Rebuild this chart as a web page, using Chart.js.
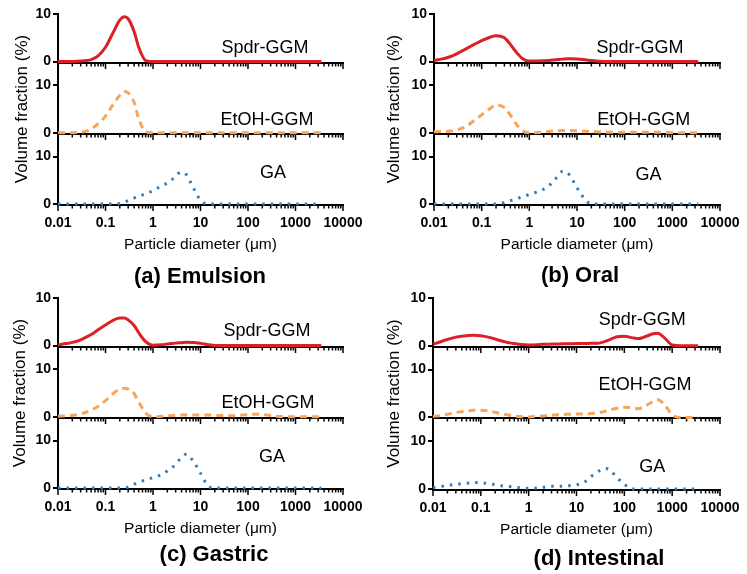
<!DOCTYPE html>
<html>
<head>
<meta charset="utf-8">
<script src="https://cdn.jsdelivr.net/npm/chart.js@4"></script>
<style>
  body { margin: 0; background: #fff; width: 747px; height: 574px; position: relative; overflow: hidden; font-family: 'Liberation Sans', Arial, sans-serif; }
  canvas { position: absolute; }
  .ptitle { position: absolute; font-weight: bold; font-size: 22px; transform: translate(-50%, -50%); white-space: nowrap; color: #000; }
</style>
</head>
<body>
<script>
// particle diameter grid (um), shared by every curve
const sizes = [0.01, 0.015, 0.02, 0.025, 0.03, 0.04, 0.05, 0.07,
  0.1, 0.15, 0.2, 0.25, 0.3, 0.4, 0.5, 0.7,
  1, 1.5, 2, 2.5, 3, 4, 5, 7,
  10, 15, 20, 25, 30, 40, 50, 70,
  100, 150, 200, 250, 300, 400, 500, 700,
  1000, 1500, 2000, 2500, 3000, 3500];
const xTickLabels = [0.01, 0.1, 1, 10, 100, 1000, 10000];
const seriesNames = ['Spdr-GGM', 'EtOH-GGM', 'GA'];

// (a) Emulsion
const emulsionSpdr = [0, 0, 0.02, 0.04, 0.08, 0.2, 0.4, 1.2,
  3.0, 6.4, 8.7, 9.4, 9.0, 6.3, 3.0, 0.2,
  0, 0, 0, 0, 0, 0, 0, 0,
  0, 0, 0, 0, 0, 0, 0, 0,
  0, 0, 0, 0, 0, 0, 0, 0,
  0, 0, 0, 0, 0, 0];
const emulsionEtoh = [0, 0, 0.02, 0.05, 0.12, 0.35, 0.8, 1.9,
  3.5, 6.2, 7.9, 8.7, 8.4, 6.4, 3.0, 0.2,
  0, 0, 0, 0, 0, 0, 0, 0,
  0, 0, 0, 0, 0, 0, 0, 0,
  0, 0, 0, 0, 0, 0, 0, 0,
  0, 0, 0, 0, 0, 0];
const emulsionGa = [0, 0, 0, 0, 0, 0, 0, 0,
  0, 0, 0.1, 0.4, 0.7, 1.25, 1.6, 2.2,
  2.8, 3.8, 4.4, 5.1, 6.0, 6.7, 6.2, 3.5,
  0.8, 0, 0, 0, 0, 0, 0, 0,
  0, 0, 0, 0, 0, 0, 0, 0,
  0, 0, 0, 0, 0, 0];

// (b) Oral
const oralSpdr = [0.2, 0.55, 0.9, 1.25, 1.6, 2.3, 2.8, 3.6,
  4.4, 5.1, 5.4, 5.3, 5.0, 3.6, 2.3, 0.7,
  0.1, 0.1, 0.15, 0.2, 0.3, 0.4, 0.5, 0.6,
  0.55, 0.35, 0.2, 0.1, 0.05, 0, 0, 0,
  0, 0, 0, 0, 0, 0, 0, 0,
  0, 0, 0, 0, 0, 0];
const oralEtoh = [0.2, 0.25, 0.3, 0.4, 0.6, 1.0, 1.5, 2.6,
  3.8, 5.1, 5.8, 5.7, 5.3, 3.7, 2.2, 0.5,
  0, 0.05, 0.15, 0.25, 0.35, 0.4, 0.45, 0.45,
  0.4, 0.3, 0.25, 0.2, 0.15, 0.1, 0.1, 0.1,
  0.1, 0.1, 0.1, 0.1, 0.1, 0.1, 0.1, 0.05,
  0, 0, 0, 0, 0, 0];
const oralGa = [0, 0, 0, 0, 0, 0, 0, 0,
  0, 0, 0, 0.1, 0.3, 0.7, 1.0, 1.5,
  2.0, 2.6, 3.1, 3.7, 4.5, 5.9, 6.9, 6.1,
  3.4, 0.9, 0, 0, 0, 0, 0, 0,
  0, 0, 0, 0, 0, 0, 0, 0,
  0, 0, 0, 0, 0, 0];

// (c) Gastric
const gastricSpdr = [0.15, 0.4, 0.65, 0.9, 1.2, 1.8, 2.3, 3.3,
  4.3, 5.4, 5.8, 5.8, 5.4, 4.2, 2.7, 0.8,
  0.05, 0.15, 0.3, 0.4, 0.5, 0.6, 0.7, 0.65,
  0.45, 0.15, 0, 0, 0, 0, 0, 0,
  0, 0, 0, 0, 0, 0, 0, 0,
  0, 0, 0, 0, 0, 0];
const gastricEtoh = [0.1, 0.2, 0.3, 0.45, 0.6, 1.0, 1.4, 2.2,
  3.4, 5.0, 5.8, 6.0, 5.8, 4.9, 3.1, 0.8,
  0, 0.1, 0.2, 0.25, 0.3, 0.35, 0.35, 0.35,
  0.35, 0.35, 0.3, 0.25, 0.25, 0.2, 0.2, 0.3,
  0.5, 0.55, 0.45, 0.35, 0.25, 0.1, 0.05, 0,
  0, 0, 0, 0, 0, 0];
const gastricGa = [0, 0, 0, 0, 0, 0, 0, 0,
  0, 0, 0, 0.05, 0.2, 0.8, 1.2, 1.7,
  2.2, 2.8, 3.6, 4.2, 5.1, 6.4, 7.1, 5.7,
  3.1, 0.3, 0, 0, 0, 0, 0, 0,
  0, 0, 0, 0, 0, 0, 0, 0,
  0, 0, 0, 0, 0, 0];

// (d) Intestinal
const intestinalSpdr = [0.3, 0.9, 1.3, 1.6, 1.8, 2.0, 2.1, 2.2,
  2.1, 1.75, 1.4, 1.1, 0.9, 0.6, 0.45, 0.25,
  0.15, 0.2, 0.3, 0.3, 0.35, 0.35, 0.4, 0.4,
  0.45, 0.45, 0.5, 0.5, 0.55, 0.9, 1.3, 1.9,
  2.0, 1.65, 1.5, 1.75, 2.05, 2.5, 2.6, 1.6,
  0.15, 0, 0, 0, 0, 0];
const intestinalEtoh = [0.2, 0.4, 0.65, 0.85, 1.0, 1.2, 1.35, 1.5,
  1.5, 1.3, 1.05, 0.85, 0.7, 0.45, 0.3, 0.15,
  0.1, 0.2, 0.3, 0.4, 0.45, 0.55, 0.6, 0.65,
  0.7, 0.7, 0.8, 0.95, 1.05, 1.3, 1.55, 1.9,
  2.1, 2.0, 1.8, 2.2, 2.6, 3.3, 3.7, 2.6,
  0.55, 0, 0, 0, 0, 0];
const intestinalGa = [0.3, 0.55, 0.75, 0.9, 1.0, 1.1, 1.2, 1.35,
  1.3, 1.1, 0.9, 0.75, 0.6, 0.5, 0.4, 0.25,
  0.15, 0.2, 0.35, 0.5, 0.6, 0.6, 0.6, 0.7,
  0.85, 1.5, 2.6, 3.3, 3.8, 4.3, 4.0, 2.4,
  1.0, 0, 0, 0, 0, 0, 0, 0,
  0, 0, 0, 0, 0, 0];

const FONT = "'Liberation Sans', Arial, sans-serif";
Chart.defaults.font.family = FONT;
Chart.defaults.color = '#000';

const YW = 30;   // width of the y tick column
const XH = 30;   // height of the x tick label row
const axisIds = ['yTop', 'yMid', 'yBot'];
const colors = ['#dd1f26', '#f6a55a', '#2f7ebf'];
const widths = [3, 3, 3];
const dashes = [[], [7, 5], [2.5, 6]];

// box = canvas rect on the page, plot = wanted chart area (left, top, right, bottom)
const panels = [
  { title: '(a) Emulsion', box: [0, 0, 373, 287], plot: [58, 14, 343, 204], titleAt: [200, 276],
    series: [emulsionSpdr, emulsionEtoh, emulsionGa], labels: [[228, 2.8], [251, 2.7], [336, 6.6]], yTitleDx: -36 },
  { title: '(b) Oral', box: [373, 0, 374, 287], plot: [434, 14, 720, 204], titleAt: [580, 275],
    series: [oralSpdr, oralEtoh, oralGa], labels: [[210, 2.8], [251, 2.7], [316, 6.2]], yTitleDx: -40 },
  { title: '(c) Gastric', box: [0, 287, 373, 287], plot: [58, 298, 343, 488], titleAt: [214, 554],
    series: [gastricSpdr, gastricEtoh, gastricGa], labels: [[251, 3.0], [263, 2.85], [320, 6.5]], yTitleDx: -38 },
  { title: '(d) Intestinal', box: [373, 287, 374, 287], plot: [433, 298, 720, 489], titleAt: [599, 558],
    series: [intestinalSpdr, intestinalEtoh, intestinalGa], labels: [[236, 5.35], [272, 6.8], [383, 4.65]], yTitleDx: -39 }
];

// zero lines with log ticks under each sub-plot, plus the texts
const frame = {
  id: 'frame',
  beforeDatasetsDraw(chart) {
    const { ctx, chartArea: a, scales } = chart;
    const x = scales.x;
    ctx.save();
    ctx.strokeStyle = '#000';
    axisIds.forEach(id => {
      const y0 = Math.round(scales[id].getPixelForValue(0));
      ctx.lineWidth = 2;
      ctx.beginPath();
      ctx.moveTo(a.left - 1, y0 + 1);
      ctx.lineTo(a.right + 1, y0 + 1);
      ctx.stroke();
      ctx.lineWidth = 1.5;
      for (let d = -2; d <= 4; d++) {
        for (let k = 1; k <= 9; k++) {
          const v = k * Math.pow(10, d);
          if (v > x.max * 1.001) break;
          const px = x.getPixelForValue(v);
          const len = k === 1 ? 6 : 3.5;
          ctx.beginPath();
          ctx.moveTo(px, y0 + 1);
          ctx.lineTo(px, y0 + 1 + len);
          ctx.stroke();
        }
      }
    });
    ctx.restore();
  },
  afterDraw(chart, args, o) {
    const { ctx, chartArea: a, scales } = chart;
    ctx.save();
    ctx.fillStyle = '#000';
    ctx.textAlign = 'center';
    ctx.textBaseline = 'middle';
    ctx.font = '15.5px ' + FONT;
    ctx.fillText('Particle diameter (\u03bcm)', (a.left + a.right) / 2, a.bottom + 41);
    ctx.save();
    ctx.translate(a.left + o.yTitleDx, (a.top + a.bottom) / 2);
    ctx.rotate(-Math.PI / 2);
    ctx.font = '17px ' + FONT;
    ctx.fillText('Volume fraction (%)', 0, 0);
    ctx.restore();
    ctx.font = '18px ' + FONT;
    o.labels.forEach((l, i) => {
      ctx.fillText(seriesNames[i], scales.x.getPixelForValue(l[0]), scales[axisIds[i]].getPixelForValue(l[1]));
    });
    ctx.restore();
  }
};

const tickFont = { family: FONT, size: 14, weight: 'bold' };
function yScale(max, weight) {
  return {
    type: 'linear', position: 'left', stack: 'sub', stackWeight: weight,
    min: 0, max: max,
    ticks: { stepSize: 10, includeBounds: false, color: '#000', font: tickFont, padding: 2 },
    grid: { drawOnChartArea: false, color: '#000', lineWidth: 2, tickLength: 5 },
    border: { color: '#000', width: 2 },
    afterFit: s => { s.width = YW; }
  };
}

panels.forEach(p => {
  const [bl, bt, bw, bh] = p.box;
  const [pl, pt, pr, pb] = p.plot;
  const canvas = document.createElement('canvas');
  canvas.width = bw;
  canvas.height = bh;
  canvas.style.left = bl + 'px';
  canvas.style.top = bt + 'px';
  canvas.style.width = bw + 'px';
  canvas.style.height = bh + 'px';
  document.body.appendChild(canvas);

  const t = document.createElement('div');
  t.className = 'ptitle';
  t.textContent = p.title;
  t.style.left = p.titleAt[0] + 'px';
  t.style.top = p.titleAt[1] + 'px';
  document.body.appendChild(t);

  new Chart(canvas, {
    type: 'line',
    data: {
      datasets: p.series.map((vals, i) => ({
        label: seriesNames[i],
        data: sizes.map((s, j) => ({ x: s, y: vals[j] })),
        yAxisID: axisIds[i],
        borderColor: colors[i],
        borderWidth: widths[i],
        borderDash: dashes[i],
        pointRadius: 0,
        fill: false,
        cubicInterpolationMode: 'monotone',
        clip: 6
      }))
    },
    options: {
      responsive: false,
      animation: false,
      devicePixelRatio: 1,
      layout: { padding: { left: pl - bl - YW, top: pt - bt, right: bl + bw - pr, bottom: bt + bh - pb - XH } },
      plugins: {
        legend: { display: false },
        tooltip: { enabled: false },
        frame: { labels: p.labels, yTitleDx: p.yTitleDx }
      },
      scales: {
        yBot: yScale(15, 3),
        yMid: yScale(15, 3),
        yTop: yScale(10, 2),
        x: {
          type: 'logarithmic', position: 'bottom', min: 0.01, max: 10000,
          afterBuildTicks: s => { s.ticks = xTickLabels.map(v => ({ value: v })); },
          afterFit: s => { s.height = XH; },
          ticks: { autoSkip: false, maxRotation: 0, color: '#000', font: tickFont, padding: 3, callback: v => String(v) },
          grid: { display: false },
          border: { display: false }
        }
      }
    },
    plugins: [frame]
  });
});
</script>
</body>
</html>
